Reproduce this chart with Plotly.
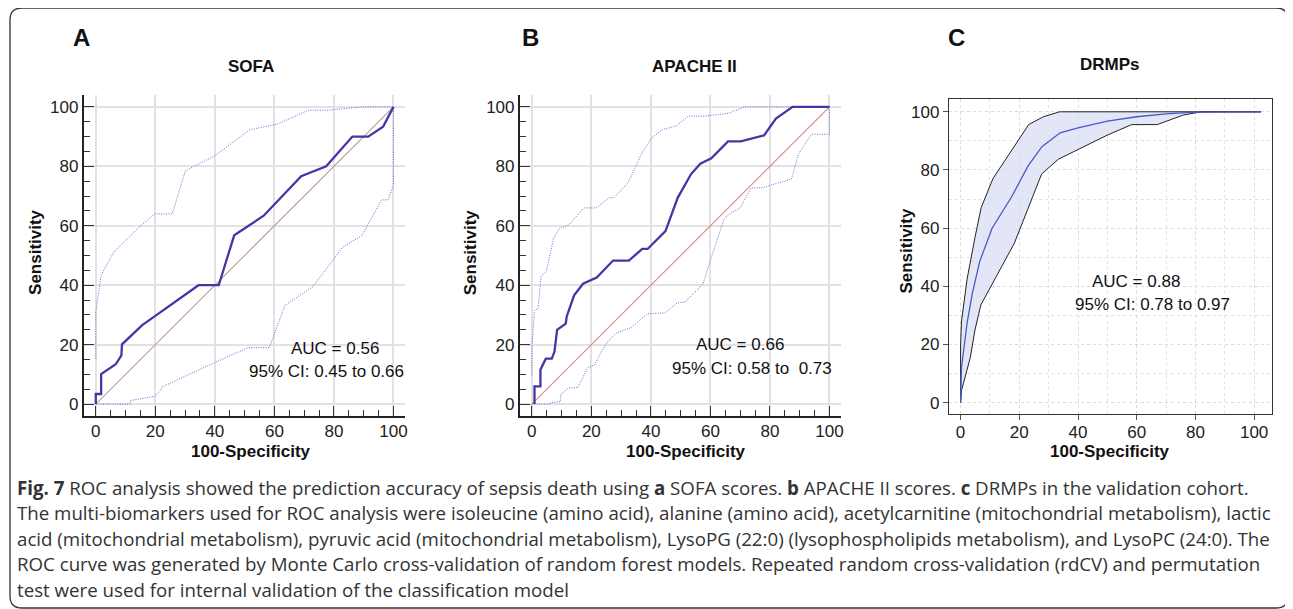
import plotly.graph_objects as go

W, H = 1293, 609
OFF = 8  # page body margin of the browser

# ---------------- data ----------------
# Panel A: SOFA
sofa_x = [0, 0, 1.8, 1.8, 6.7, 8.6, 8.8, 11.5, 15.6, 20, 30, 34.5, 41.3, 46.5, 56.4, 69, 77.4, 86.2, 91.5, 96.5, 100]
sofa_y = [0, 3.4, 3.4, 10.1, 13.4, 16.4, 20.1, 22.6, 26.6, 29.7, 36.7, 40, 40, 56.8, 63.4, 76.7, 80, 90, 90, 93.3, 100]
sofa_up_x = [0, 0, 1.8, 6.3, 10, 15, 19.8, 25.7, 30.1, 40.1, 51.7, 61, 71.5, 78, 89.5, 100]
sofa_up_y = [15.3, 31, 43.5, 51.5, 55, 60, 64, 64, 78.5, 83.6, 92.3, 94.2, 98.9, 98.9, 100, 100]
sofa_lo_x = [0, 11.6, 11.6, 19.8, 21.8, 22.3, 40, 51.1, 58.3, 63.5, 73, 82.9, 89.4, 96, 98.1, 100, 100]
sofa_lo_y = [0, 0, 1.2, 2.6, 4.5, 5.8, 14, 19, 19, 33.2, 39.6, 52.8, 56.7, 68.7, 68.7, 73.5, 100]

# Panel B: APACHE II
apache_x = [0.9, 0.9, 2.9, 2.9, 4.7, 6.7, 7.6, 8.5, 11.4, 11.7, 14.2, 17.2, 21.8, 27.3, 32.6, 37.1, 38.9,
            44.9, 49, 53.5, 56.6, 60.3, 65.9, 70.2, 78, 82, 87.6, 100]
apache_y = [0, 6, 6, 11.6, 15.3, 15.3, 17.6, 25, 27.1, 29.4, 36.6, 40.5, 42.6, 48.3, 48.3, 52.2, 52.2,
            58.2, 69.4, 77.4, 80.9, 82.7, 88.4, 88.4, 90.4, 96.1, 100, 100]
apache_up_x = [0, 0, 0.9, 2.1, 3.1, 4.9, 7.3, 9.2, 12.5, 17.5, 21.6, 25.9, 27.6, 32.4, 37.1, 40.4, 44,
               48.5, 52.6, 58, 65.9, 71.5, 100]
apache_up_y = [9.6, 19.2, 31.5, 32, 43, 44.7, 55.8, 59, 60.4, 66, 66, 69.4, 69.4, 74.6, 84.7, 89.7, 92.4,
               93.6, 96.9, 96.9, 97.8, 100, 100]
apache_lo_x = [0, 6.3, 6.3, 9.6, 9.8, 12.5, 15.4, 17.9, 18.8, 21, 23.5, 25.7, 28.5, 33.3, 38.9, 44.7, 48.9,
               51.4, 55.5, 57.5, 59.4, 61.7, 64.6, 67, 70, 73.7, 77.9, 82, 87.2, 89.6, 93.9, 100, 100]
apache_lo_y = [0, 0, 0.5, 0.8, 3.4, 5.5, 5.5, 10.8, 12.3, 13.1, 17.9, 21.3, 24, 25.7, 30.4, 30.7, 34.1,
               34.3, 38.3, 40.4, 46.6, 53.9, 62.3, 64.4, 66, 72.7, 72.9, 74.2, 75.7, 84.1, 90.8, 90.8, 100]

# Panel C: DRMPs
drmp_x = [0, 0.3, 2.2, 4, 6.5, 10.7, 17.4, 23, 27.7, 33.9, 40, 50, 60, 70, 80, 102.3]
drmp_y = [0, 12, 27.3, 37.6, 48.5, 59.9, 70.8, 81.4, 88, 92.8, 94.5, 96.8, 98.3, 99.3, 99.9, 100]
drmp_up_x = [0, 0, 0.3, 2.2, 4.9, 7, 11, 16.8, 23.2, 28.2, 33.7, 102.3]
drmp_up_y = [0, 19.8, 27.8, 42.4, 56.8, 67, 77, 85.7, 95.6, 98.3, 100, 100]
drmp_lo_x = [0, 0.3, 3.3, 4.9, 6.9, 10.5, 18.3, 23, 27.6, 33.3, 41, 50, 58.3, 67, 75.9, 82, 102.3]
drmp_lo_y = [0, 4.1, 15.5, 25, 33.6, 40.4, 54.8, 66.8, 78.6, 83.7, 87.5, 92, 95.6, 95.6, 98.9, 100, 100]

tick_vals = [0, 20, 40, 60, 80, 100]
tick_text = ["0", "20", "40", "60", "80", "100"]

# ---------------- helpers ----------------
def px(x):
    return (x - OFF) / W

def py(y):
    return 1 - (y - OFF) / H

MAIN = "#4536a6"
CI = "#6a6ad6"
FONT = "Liberation Sans, Arial, sans-serif"

fig = go.Figure()

def add(x, y, ax, **kw):
    fig.add_trace(go.Scatter(x=x, y=y, mode="lines", xaxis="x" + ax, yaxis="y" + ax,
                             showlegend=False, hoverinfo="skip", **kw))

DOT = "1px,1.4px"
# Panel A
add([0, 100], [0, 100], "", line=dict(color="#c49a9a", width=1.1))
add(sofa_up_x, sofa_up_y, "", line=dict(color=CI, width=1, dash=DOT))
add(sofa_lo_x, sofa_lo_y, "", line=dict(color=CI, width=1, dash=DOT))
add(sofa_x, sofa_y, "", line=dict(color=MAIN, width=2.3))
# Panel B
add([0, 100], [0, 100], "2", line=dict(color="#d08888", width=1.1))
add(apache_up_x, apache_up_y, "2", line=dict(color=CI, width=1, dash=DOT))
add(apache_lo_x, apache_lo_y, "2", line=dict(color=CI, width=1, dash=DOT))
add(apache_x, apache_y, "2", line=dict(color=MAIN, width=2.3))
# Panel C
add(drmp_lo_x, drmp_lo_y, "3", line=dict(color="#222222", width=1))
add(drmp_up_x, drmp_up_y, "3", line=dict(color="#222222", width=1), fill="tonexty",
    fillcolor="rgba(218,221,243,0.75)")
add(drmp_x, drmp_y, "3", line=dict(color="#4a58c8", width=1.3))

tickfont = dict(family=FONT, size=17, color="#222")

def ab_axes(xdom, ydom):
    xa = dict(domain=xdom, range=[-4, 104], tickvals=tick_vals, ticktext=tick_text,
              showgrid=True, gridcolor="#e2e2e2", gridwidth=1.6, zeroline=False,
              showline=True, linecolor="#222", linewidth=2, ticks="inside", ticklen=10,
              tickcolor="#333", tickwidth=1.3,
              minor=dict(dtick=5, tick0=0, ticks="inside", ticklen=6, tickcolor="#333", tickwidth=1.3,
                         showgrid=False),
              tickfont=tickfont, fixedrange=True)
    ya = dict(xa)
    ya["domain"] = ydom
    xa["ticklabelstandoff"] = -1
    return xa, ya

ydomAB = [py(416), py(95)]
xa1, ya1 = ab_axes([px(84), px(406)], ydomAB)
xa2, ya2 = ab_axes([px(520.7), px(842.7)], ydomAB)
ya1["anchor"] = "x"; xa1["anchor"] = "y"
ya2["anchor"] = "x2"; xa2["anchor"] = "y2"

gridC = dict(showgrid=True, gridcolor="#dcdcdc", griddash="dot", gridwidth=1, zeroline=False,
             showline=True, mirror=True, linecolor="#333", linewidth=1,
             ticks="outside", ticklen=5, tickcolor="#555",
             tickvals=tick_vals, ticktext=tick_text, tickfont=tickfont, fixedrange=True,
             minor=dict(dtick=10, tick0=0, showgrid=True, gridcolor="#e2e2e2", griddash="dot", ticks=""))
xa3 = dict(gridC, domain=[px(950.3), px(1274.3)], range=[-4, 106.2], anchor="y3", ticklabelstandoff=-3)
ya3 = dict(gridC, domain=[py(414.3), py(99.3)], range=[-4, 104.3], anchor="x3")

fig.update_layout(xaxis=xa1, yaxis=ya1, xaxis2=xa2, yaxis2=ya2, xaxis3=xa3, yaxis3=ya3)

ann = []
def text(x, y, t, size=17, bold=False, angle=0, xanchor="center", color="#111", family=FONT):
    ann.append(dict(x=px(x), y=py(y), xref="paper", yref="paper", text=("<b>%s</b>" % t) if bold else t,
                    showarrow=False, xanchor=xanchor, yanchor="middle", textangle=angle,
                    font=dict(family=family, size=size, color=color)))

# panel letters & titles
text(82, 37, "A", size=24, bold=True)
text(531, 37, "B", size=24, bold=True)
text(958, 37, "C", size=24, bold=True)
text(251, 66, "SOFA", bold=True)
text(696, 66, "APACHE II", bold=True)
text(1112, 64, "DRMPs", bold=True)
# axis titles
for xs, ys in [(36, 252), (472, 252), (907, 251)]:
    text(xs, ys, "Sensitivity", bold=True, angle=-90)
for xs in [251, 687, 1112]:
    text(xs, 451, "100-Specificity", bold=True)
# AUC texts
text(336, 348, "AUC = 0.56")
text(326.5, 371, "95% CI: 0.45 to 0.66")
text(741, 344, "AUC = 0.66")
text(753, 368, "95% CI: 0.58 to\u00a0 0.73")
text(1138, 281, "AUC = 0.88")
text(1154, 304, "95% CI: 0.78 to 0.97")

# caption
cap = [
    "<b>Fig. 7</b> ROC analysis showed the prediction accuracy of sepsis death using <b>a</b> SOFA scores. <b>b</b> APACHE II scores. <b>c</b> DRMPs in the validation cohort.",
    "The multi-biomarkers used for ROC analysis were isoleucine (amino acid), alanine (amino acid), acetylcarnitine (mitochondrial metabolism), lactic",
    "acid (mitochondrial metabolism), pyruvic acid (mitochondrial metabolism), LysoPG (22:0) (lysophospholipids metabolism), and LysoPC (24:0). The",
    "ROC curve was generated by Monte Carlo cross-validation of random forest models. Repeated random cross-validation (rdCV) and permutation",
    "test were used for internal validation of the classification model",
]
for i, line in enumerate(cap):
    text(15, 487 + i * 25.5, line, size=18.7, xanchor="left", color="#333", family="Open Sans, sans-serif")

fig.update_layout(annotations=ann)

# rounded frame
r = 12
x0, y0, x1, y1 = 10, 8, 1290, 608
path = (f"M {px(x0)},{py(y0 + r)} Q {px(x0)},{py(y0)} {px(x0 + r)},{py(y0)} "
        f"L {px(x1 - r)},{py(y0)} Q {px(x1)},{py(y0)} {px(x1)},{py(y0 + r)} "
        f"L {px(x1)},{py(y1 - r)} Q {px(x1)},{py(y1)} {px(x1 - r)},{py(y1)} "
        f"L {px(x0 + r)},{py(y1)} Q {px(x0)},{py(y1)} {px(x0)},{py(y1 - r)} Z")
fig.add_shape(type="path", path=path, xref="paper", yref="paper",
              line=dict(color="#333", width=1.3), fillcolor="rgba(0,0,0,0)")

fig.update_layout(width=W, height=H, margin=dict(l=0, r=0, t=0, b=0),
                  paper_bgcolor="white", plot_bgcolor="white", showlegend=False)

fig.write_html("out.html")
